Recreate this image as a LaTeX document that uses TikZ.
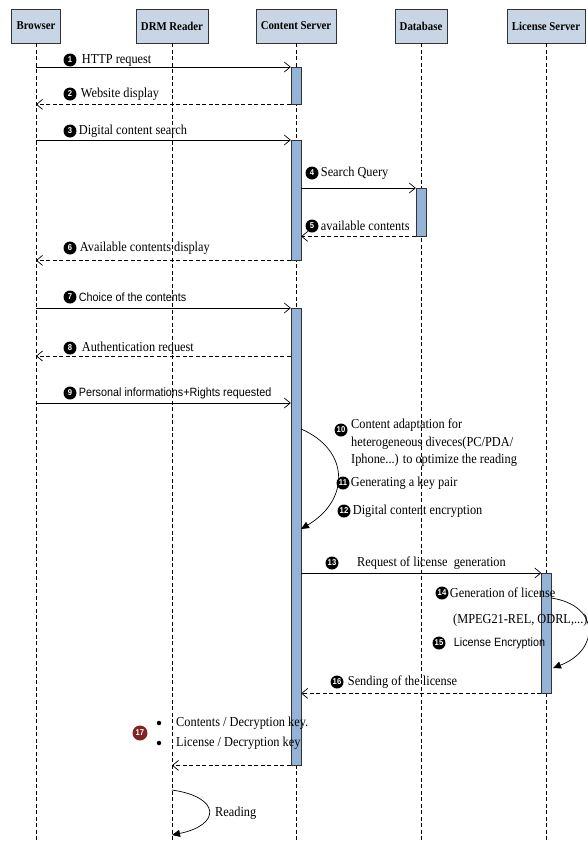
\documentclass[tikz,border=0pt]{standalone}
\usepackage{fontspec}
\setmainfont[FakeStretch=0.9]{Liberation Serif}
\setsansfont[FakeStretch=0.9]{Liberation Sans}
\usetikzlibrary{arrows.meta,positioning}
\definecolor{headfill}{RGB}{200,213,228}
\definecolor{barfill}{RGB}{149,179,215}
\definecolor{numred}{RGB}{128,36,36}

\begin{document}
\begin{tikzpicture}[x=1pt,y=-1pt,
    head/.style={draw=black!80,fill=headfill,minimum height=34pt,inner xsep=5pt,font=\bfseries\fontsize{12}{14}\selectfont},
    life/.style={dash pattern=on 4pt off 2.5pt,line width=0.6pt},
    bar/.style={draw=black!80,fill=barfill,minimum width=10pt,inner sep=0pt,anchor=north},
    msg/.style={line width=0.7pt,-{Straight Barb[length=6pt,width=10pt]}},
    ret/.style={msg,dash pattern=on 4pt off 2.5pt},
    self/.style={line width=0.7pt,-{Triangle[length=8pt,width=7pt]}},
    num/.style={circle,fill=black,text=white,inner sep=0pt,minimum size=13pt,font=\sffamily\bfseries\fontsize{8.5}{8.5}\selectfont},
    lbl/.style={inner sep=0pt,anchor=west,font=\fontsize{13.7}{15}\selectfont},
    slbl/.style={lbl,font=\sffamily\fontsize{12}{13}\selectfont}]

    \useasboundingbox (0,0) rectangle (587,844);

    % lifelines
    \node (hB) at (36,26) [head] {Browser};
    \node (hD) at (172,26) [head] {DRM Reader};
    \node (hC) at (296,26) [head] {Content Server};
    \node (hDB) at (421,26) [head] {Database};
    \node (hL) at (546,26) [head] {License Server};
    \coordinate (bot) at (0,842);
    \foreach \h in {hB,hD,hC,hDB,hL}
        \draw[life] (\h.south) -- (\h.south |- bot);

    % activations
    \node (bar1) at (296,67) [bar,minimum height=37pt] {};
    \node (bar2) at (296,140) [bar,minimum height=120pt] {};
    \node (dbbar) at (421,188) [bar,minimum height=48pt] {};
    \node (bar3) at (296,308) [bar,minimum height=457pt] {};
    \node (lsbar) at (546.5,573) [bar,minimum height=120pt] {};

    \coordinate (y8) at (0,356);
    \coordinate (y9) at (0,403);

    % messages
    \draw[msg] (hB |- bar1.north west) -- (bar1.north west);
    \draw[ret] (bar1.south west) -- (hB |- bar1.south west);
    \draw[msg] (hB |- bar2.north west) -- (bar2.north west);
    \draw[msg] (bar2.east |- dbbar.north west) -- (dbbar.north west);
    \draw[ret] (dbbar.south west) -- (bar2.east |- dbbar.south west);
    \draw[ret] (bar2.south west) -- (hB |- bar2.south west);
    \draw[msg] (hB |- bar3.north west) -- (bar3.north west);
    \draw[ret] (bar3.west |- y8) -- (hB |- y8);
    \draw[msg] (hB |- y9) -- (bar3.west |- y9);
    \draw[msg] (bar3.east |- lsbar.north west) -- (lsbar.north west);
    \draw[ret] (lsbar.south west) -- (bar3.east |- lsbar.south west);
    \draw[ret] (bar3.south west) -- (hD |- bar3.south west);

    % self calls
    \coordinate (s1) at (301,429);
    \coordinate (e1) at (301,529);
    \draw[self] (s1) .. controls (350,450) and (350,500) .. (e1);
    \coordinate (s2) at (551,598);
    \coordinate (e2) at (553,668);
    \draw[self] (s2) .. controls (600,605) and (600,650) .. (e2);
    \coordinate (s3) at (172,790);
    \coordinate (e3) at (172,835);
    \draw[self] (s3) .. controls (221,797) and (221,825) .. (e3);

    % labels
    \node (n1) at (70,60) [num] {1};
    \node (t1) [lbl,right=5pt of n1] {HTTP request};
    \node (n2) at (70,94) [num] {2};
    \node (t2) [lbl,right=4pt of n2] {Website display};
    \node (n3) at (70,131) [num] {3};
    \node (t3) [lbl,right=2pt of n3] {Digital content search};
    \node (n4) at (312,173) [num] {4};
    \node (t4) [lbl,right=2pt of n4] {Search Query};
    \node (n5) at (312,226) [num] {5};
    \node (t5) [lbl,right=2pt of n5] {available contents};
    \node (n6) at (70,248) [num] {6};
    \node (t6) [lbl,right=3pt of n6] {Available contents display};
    \node (n7) at (70,297) [num] {7};
    \node (t7) [slbl,right=2pt of n7] {Choice of the contents};
    \node (n8) at (70,348) [num] {8};
    \node (t8) [lbl,right=5pt of n8] {Authentication request};
    \node (n9) at (70,393) [num] {9};
    \node (t9) [slbl,right=2pt of n9] {Personal informations+Rights requested};
    \node (n10) at (341,430) [num] {10};
    \node (t10) at (351,419) [lbl,anchor=north west,align=left,font=\fontsize{13.7}{17.5}\selectfont]
        {Content adaptation for\\heterogeneous diveces(PC/PDA/\\Iphone...) to optimize the reading};
    \node (n11) at (343,483) [num] {11};
    \node (t11) [lbl,right=1pt of n11] {Generating a key pair};
    \node (n12) at (344,511) [num] {12};
    \node (t12) [lbl,right=2pt of n12] {Digital content encryption};
    \node (n13) at (332,563) [num] {13};
    \node (t13) at (357,563) [lbl] {Request of license\ \ generation};
    \node (n14) at (442,593) [num] {14};
    \node (t14) [lbl,right=1pt of n14] {Generation of license};
    \node (t14b) at (453,620) [lbl] {(MPEG21-REL, ODRL,...)};
    \node (n15) at (439,643) [num] {15};
    \node (t15) [slbl,right=8pt of n15] {License Encryption};
    \node (n16) at (337,682) [num] {16};
    \node (t16) [lbl,right=4pt of n16] {Sending of the license};
    \node (n17) at (140,733) [num,fill=numred,minimum size=15pt] {17};
    \node (d1) at (159,723) [circle,fill=black,inner sep=0pt,minimum size=4.5pt] {};
    \node (d2) at (159,743) [circle,fill=black,inner sep=0pt,minimum size=4.5pt] {};
    \node (t17a) at (176,723) [lbl] {Contents / Decryption key.};
    \node (t17b) at (176,743) [lbl] {License / Decryption key};
    \node (t18) at (215,813) [lbl] {Reading};

\end{tikzpicture}
\end{document}
